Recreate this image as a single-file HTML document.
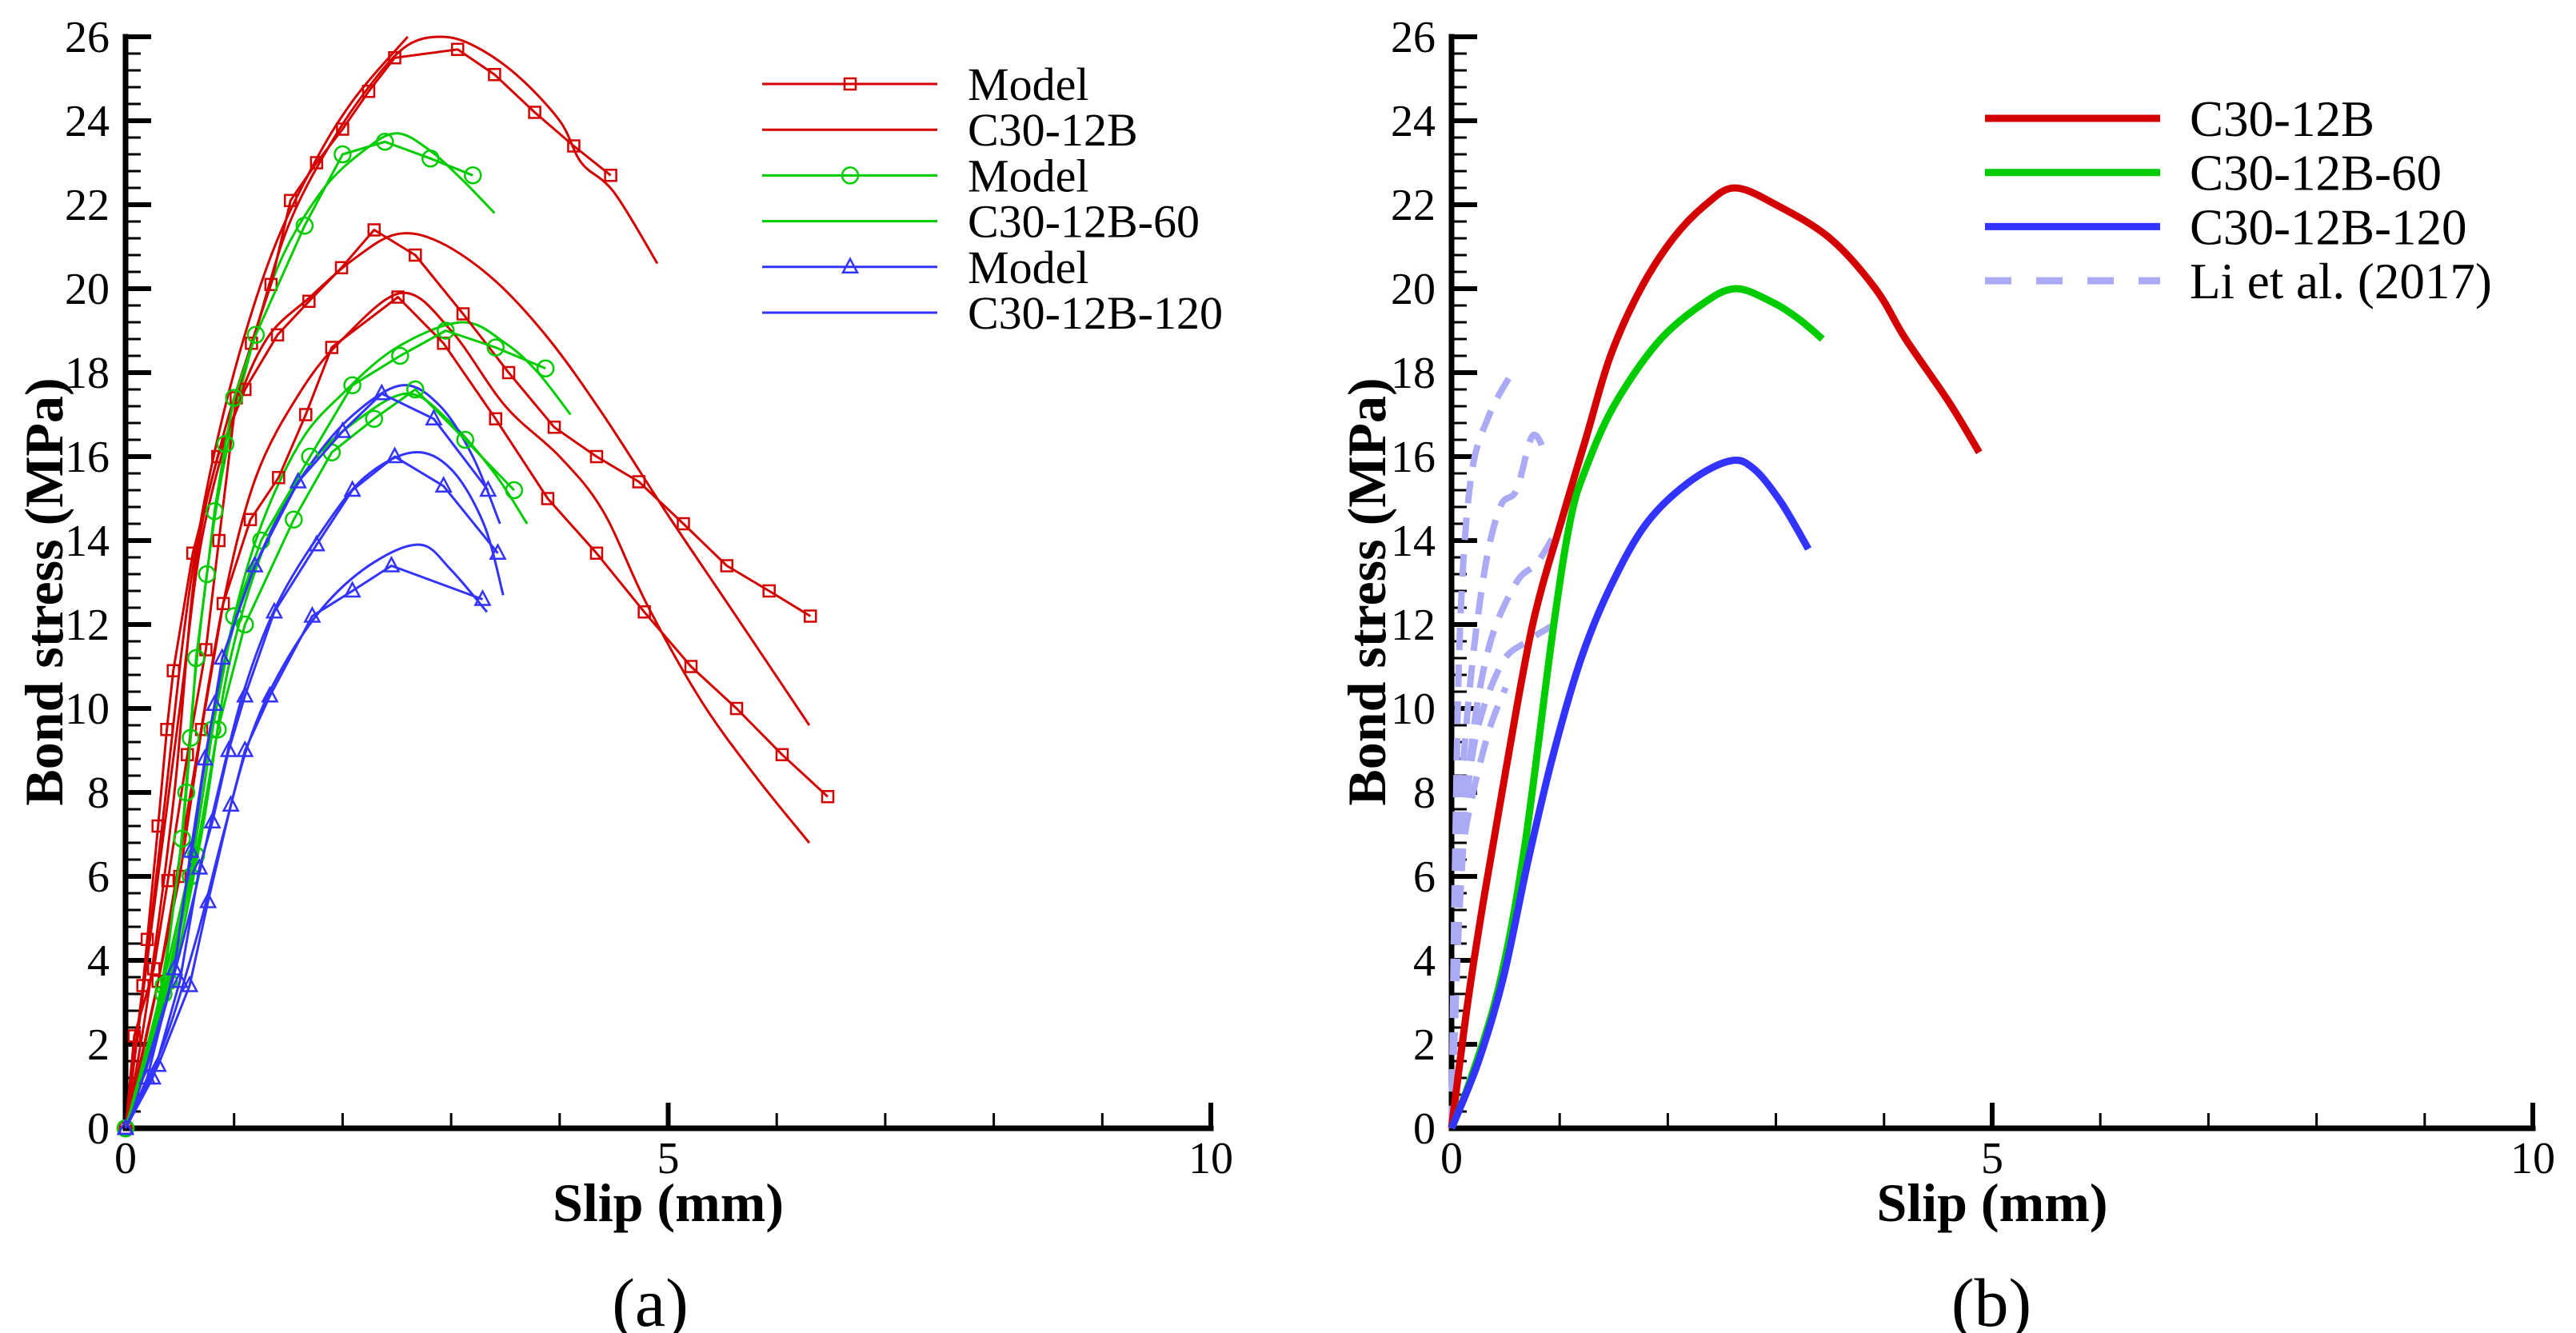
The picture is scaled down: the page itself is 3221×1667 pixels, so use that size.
<!DOCTYPE html>
<html><head><meta charset="utf-8"><style>
html,body{margin:0;padding:0;background:#fff;}
svg{display:block;}
svg text{font-family:"Liberation Serif","DejaVu Serif",serif !important;}
</style></head><body>
<svg id="fig" width="3221" height="1667" viewBox="0 0 3221 1667" xmlns="http://www.w3.org/2000/svg" font-family="Liberation Serif, serif">
<g id="pa"></g>
<g id="pb"></g>
</svg>
<script>
// ---- data (Slip mm, Bond stress MPa) ----
const xTicks = [0, 5, 10];
const yTicks = [0,2,4,6,8,10,12,14,16,18,20,22,24,26];
// panel a
const redModelA = [[0,0],[0.08,2.2],[0.26,3.8],[0.39,5.9],[0.57,8.9],[0.74,11.4],[0.86,14.0],[1.02,17.4],[1.16,18.7],[1.34,20.1],[1.52,22.1],[1.76,23.0],[2.0,23.8],[2.24,24.7],[2.48,25.5],[3.06,25.7],[3.4,25.1],[3.77,24.2],[4.13,23.4],[4.47,22.7]];
const redExpA = [[0,0],[0.2,3],[0.45,8],[0.65,13.5],[0.9,16.5],[1.2,19],[1.5,21.5],[1.9,23.5],[2.3,25],[2.6,25.8],[2.9,26],[3.2,25.8],[3.6,25.1],[4.0,24.0],[4.2,23.0],[4.5,22.3],[4.9,20.6]];
const redExpA2 = [[0,0],[0.15,3],[0.35,7.5],[0.6,13],[0.9,17],[1.3,20.5],[1.7,22.8],[2.1,24.5],[2.6,26]];
const redModelB = [[0,0],[0.16,3.4],[0.2,4.5],[0.3,7.2],[0.38,9.5],[0.44,10.9],[0.62,13.7],[0.85,16.0],[1.1,17.6],[1.4,18.9],[1.69,19.7],[1.99,20.5],[2.29,21.4],[2.67,20.8],[3.11,19.4],[3.53,18.0],[3.95,16.7],[4.34,16.0],[4.73,15.4],[5.14,14.4],[5.54,13.4],[5.93,12.8],[6.31,12.2]];
const redExpB = [[0,0],[0.2,4],[0.5,10],[0.7,14],[1.0,17],[1.3,18.8],[1.7,19.8],[2.1,20.7],[2.5,21.3],[2.9,21.1],[3.4,20.2],[3.9,18.8],[4.4,17.0],[5.0,14.6],[5.6,12.3],[6.3,9.6]];
const redModelC = [[0,0],[0.3,3.5],[0.5,6],[0.7,9.5],[0.9,12.5],[1.15,14.5],[1.41,15.5],[1.66,17.0],[1.9,18.6],[2.51,19.8],[2.93,18.7],[3.41,16.9],[3.89,15.0],[4.34,13.7],[4.78,12.3],[5.21,11.0],[5.63,10.0],[6.05,8.9],[6.47,7.9]];
const redExpC = [[0,0],[0.3,3.5],[0.6,8],[0.9,12.5],[1.2,15.5],[1.6,17.5],[2.0,18.8],[2.55,19.9],[3.0,19.0],[3.5,17.2],[4.0,16.0],[4.4,14.7],[4.8,12.5],[5.3,10.2],[5.8,8.4],[6.3,6.8]];
const greenModelA = [[0,0],[0.35,3.4],[0.52,6.9],[0.56,8.0],[0.6,9.3],[0.65,11.2],[0.75,13.2],[0.82,14.7],[0.92,16.3],[1.0,17.4],[1.2,18.9],[1.65,21.5],[2.0,23.2],[2.39,23.5],[2.81,23.1],[3.2,22.7]];
const greenExpA = [[0,0],[0.3,3],[0.5,6.5],[0.65,11],[0.85,15],[1.1,18],[1.4,20.5],[1.8,22.3],[2.2,23.3],[2.5,23.7],[2.8,23.3],[3.1,22.6],[3.4,21.8]];
const greenModelB = [[0,0],[0.35,3.2],[0.6,6],[0.8,9.5],[1.0,12.2],[1.25,14.0],[1.7,16.0],[2.09,17.7],[2.53,18.4],[2.95,19.0],[3.41,18.6],[3.87,18.1]];
const greenExpB = [[0,0],[0.35,3.5],[0.65,7],[0.9,11],[1.2,14],[1.6,16.3],[2.0,17.5],[2.5,18.6],[3.1,19.2],[3.5,18.7],[3.8,18.0],[4.1,17.0]];
const greenModelC = [[0,0],[0.4,3.5],[0.65,6.5],[0.85,9.5],[1.1,12],[1.55,14.5],[1.9,16.1],[2.29,16.9],[2.67,17.6],[3.13,16.4],[3.58,15.2]];
const greenExpC = [[0,0],[0.4,3.3],[0.7,7],[0.95,11],[1.3,14],[1.7,15.8],[2.1,16.8],[2.6,17.5],[3.0,16.8],[3.4,15.6],[3.7,14.4]];
const blueModelA = [[0,0],[0.2,1.2],[0.45,3.8],[0.6,6.6],[0.73,8.8],[0.82,10.1],[0.89,11.2],[1.19,13.4],[1.59,15.4],[2.0,16.6],[2.36,17.5],[2.84,16.9],[3.34,15.2]];
const blueExpA = [[0,0],[0.3,2.5],[0.55,5.5],[0.75,9],[1.0,12],[1.3,14],[1.7,15.8],[2.1,17],[2.55,17.7],[2.9,17.2],[3.2,16.0],[3.45,14.4]];
const blueModelB = [[0,0],[0.25,1.2],[0.5,3.5],[0.68,6.2],[0.8,7.3],[0.95,9.0],[1.1,10.3],[1.37,12.3],[1.76,13.9],[2.09,15.2],[2.48,16.0],[2.93,15.3],[3.43,13.7]];
const blueExpB = [[0,0],[0.3,2.3],[0.6,5.2],[0.85,8],[1.1,10.5],[1.4,12.5],[1.8,14.2],[2.2,15.5],[2.65,16.1],[3.0,15.7],[3.3,14.4],[3.48,12.7]];
const blueModelC = [[0,0],[0.3,1.5],[0.59,3.4],[0.76,5.4],[0.97,7.7],[1.1,9.0],[1.33,10.3],[1.72,12.2],[2.09,12.8],[2.45,13.4],[3.29,12.6]];
const blueExpC = [[0,0],[0.35,2],[0.65,4.5],[0.9,7],[1.15,9.3],[1.45,11],[1.85,12.5],[2.3,13.5],[2.72,13.9],[3.0,13.3],[3.33,12.3]];
// panel b
const bRed = [[0,0],[0.15,3],[0.3,5.5],[0.5,8.5],[0.75,12],[1.02,14.5],[1.25,16.5],[1.47,18.4],[1.75,20.0],[2.05,21.2],[2.35,22.0],[2.62,22.4],[3.0,22.0],[3.5,21.2],[3.92,20.0],[4.2,18.8],[4.6,17.3],[4.88,16.1]];
const bGreen = [[0,0],[0.18,1.2],[0.44,3.4],[0.67,6.6],[0.94,11.9],[1.1,14.5],[1.24,15.7],[1.5,17.2],[1.9,18.7],[2.3,19.6],[2.62,20.0],[2.95,19.7],[3.2,19.3],[3.43,18.8]];
const bBlue = [[0,0],[0.25,1.6],[0.48,3.6],[0.71,6.4],[0.94,8.9],[1.2,11.2],[1.47,12.9],[1.8,14.4],[2.2,15.4],[2.58,15.9],[2.8,15.7],[3.05,14.9],[3.3,13.8]];
const liA = [[0,0],[0.03,6],[0.08,12],[0.18,15.5],[0.35,17],[0.56,18.0]];
const liB = [[0,0],[0.05,6],[0.15,10],[0.3,13.2],[0.45,14.8],[0.6,15.2],[0.75,16.5],[0.88,16.0]];
const liC = [[0,0],[0.06,5],[0.18,9],[0.35,11.5],[0.6,13],[0.8,13.5],[1.03,14.5]];
const liD = [[0,0],[0.08,5.5],[0.2,9],[0.45,11],[0.7,11.6],[1.02,12.1]];
const liE = [[0,0],[0.05,4],[0.1,6.5],[0.2,8],[0.35,9.5],[0.5,10.5]];

const NS="http://www.w3.org/2000/svg";
const FF="Liberation Serif, serif";
function mk(tag,attrs,parent){const e=document.createElementNS(NS,tag);for(const k in attrs)e.setAttribute(k,attrs[k]);if(tag==='text')e.setAttribute('font-family',FF);parent.appendChild(e);return e;}

function axes(g,x0,x10,yLab,yTitleX){
  const Y0=1411,Y26=46;
  const sx=v=>x0+(x10-x0)*v/10, sy=v=>Y0+(Y26-Y0)*v/26;
  for(let i=0;i<=65;i++){const v=i*0.4; if(i%5===0)continue;
    const t=mk('line',{x1:x0,x2:x0+19,y1:sy(v),y2:sy(v),stroke:'#000','stroke-width':3},g);
    
    }
  yTicks.forEach(v=>{
    const t=mk('line',{x1:x0,x2:x0+32,y1:sy(v),y2:sy(v),stroke:'#000','stroke-width':6},g);
    
    
    const l=mk('text',{x:yLab,y:sy(v)+19,'font-size':56,'text-anchor':'end'},g);l.textContent=v;
    
    
  });
  for(let i=1;i<10;i++){ if(i===5)continue;
    const t=mk('line',{x1:sx(i),x2:sx(i),y1:Y0,y2:Y0-19,stroke:'#000','stroke-width':3},g);
    
    }
  xTicks.forEach(v=>{
    const t=mk('line',{x1:sx(v),x2:sx(v),y1:Y0,y2:Y0-32,stroke:'#000','stroke-width':6},g);
    
    
    const l=mk('text',{x:sx(v),y:Y0+56,'font-size':56,'text-anchor':'middle'},g);l.textContent=v;
    
    
  });
  const ax=mk('path',{d:`M${x0} ${Y26} L${x0} ${Y0} L${x10} ${Y0}`,fill:'none',stroke:'#000','stroke-width':7,'stroke-linecap':'square'},g);
  
  
  const xt=mk('text',{x:(x0+x10)/2,y:1527,'font-size':68,'font-weight':'bold','text-anchor':'middle'},g);xt.textContent='Slip (mm)';
  
  
  const yt=mk('text',{x:0,y:0,'font-size':68,'font-weight':'bold','text-anchor':'middle',transform:`translate(${yTitleX},740) rotate(-90)`},g);yt.textContent='Bond stress (MPa)';
  
  
  return {sx,sy};
}
function pathD(s,data,smooth){
  const P=data.map(p=>[s.sx(p[0]),s.sy(p[1])]);
  if(!smooth)return P.map((p,i)=>(i?'L':'M')+p[0].toFixed(1)+' '+p[1].toFixed(1)).join(' ');
  let d='M'+P[0][0].toFixed(1)+' '+P[0][1].toFixed(1);
  for(let i=0;i<P.length-1;i++){
    const p0=P[Math.max(0,i-1)],p1=P[i],p2=P[i+1],p3=P[Math.min(P.length-1,i+2)];
    const c1=[p1[0]+(p2[0]-p0[0])/6,p1[1]+(p2[1]-p0[1])/6];
    const c2=[p2[0]-(p3[0]-p1[0])/6,p2[1]-(p3[1]-p1[1])/6];
    d+=` C${c1[0].toFixed(1)} ${c1[1].toFixed(1)} ${c2[0].toFixed(1)} ${c2[1].toFixed(1)} ${p2[0].toFixed(1)} ${p2[1].toFixed(1)}`;
  }
  return d;
}
function line(g,s,data,color,w,name,dash,smooth){
  const a={d:pathD(s,data,smooth),fill:'none',stroke:color,'stroke-width':w,'stroke-linejoin':'round'};
  if(dash)a['stroke-dasharray']=dash;
  const e=mk('path',a,g);
  
  
}
function marker(g,cx,cy,type,color){
  let e;
  if(type==='sq')e=mk('rect',{x:cx-7,y:cy-7,width:14,height:14,fill:'none',stroke:color,'stroke-width':2.5},g);
  else if(type==='ci')e=mk('circle',{cx:cx,cy:cy,r:10,fill:'none',stroke:color,'stroke-width':2.5},g);
  else e=mk('path',{d:`M${cx} ${cy-10} L${cx+9} ${cy+7} L${cx-9} ${cy+7} Z`,fill:'none',stroke:color,'stroke-width':2.5},g);
  
  
}
function model(g,s,data,color,type,name){
  line(g,s,data,color,3,name);
  data.forEach(p=>marker(g,s.sx(p[0]),s.sy(p[1]),type,color));
}
const R='#d40000',G='#00cc00',B='#3333ff',L='#aaaaf5';
// panel a
const ga=document.getElementById('pa');
const sa=axes(ga,157,1514,137,78);
line(ga,sa,redExpA,R,3,'c30-12b-test-a',null,true);line(ga,sa,redExpA2,R,3,'c30-12b-test-a2',null,true);
line(ga,sa,redExpB,R,3,'c30-12b-test-b',null,true);line(ga,sa,redExpC,R,3,'c30-12b-test-c',null,true);
line(ga,sa,greenExpA,G,3,'c30-12b-60-test-a',null,true);line(ga,sa,greenExpB,G,3,'c30-12b-60-test-b',null,true);line(ga,sa,greenExpC,G,3,'c30-12b-60-test-c',null,true);
line(ga,sa,blueExpA,B,3,'c30-12b-120-test-a',null,true);line(ga,sa,blueExpB,B,3,'c30-12b-120-test-b',null,true);line(ga,sa,blueExpC,B,3,'c30-12b-120-test-c',null,true);
model(ga,sa,redModelA,R,'sq','red-model-a');model(ga,sa,redModelB,R,'sq','red-model-b');model(ga,sa,redModelC,R,'sq','red-model-c');
model(ga,sa,greenModelA,G,'ci','green-model-a');model(ga,sa,greenModelB,G,'ci','green-model-b');model(ga,sa,greenModelC,G,'ci','green-model-c');
model(ga,sa,blueModelA,B,'tr','blue-model-a');model(ga,sa,blueModelB,B,'tr','blue-model-b');model(ga,sa,blueModelC,B,'tr','blue-model-c');
// legend a
const legA=[['Model',R,'sq'],['C30-12B',R,null],['Model',G,'ci'],['C30-12B-60',G,null],['Model',B,'tr'],['C30-12B-120',B,null]];
legA.forEach((e,i)=>{const y=105+i*57.2;
  const ln=mk('line',{x1:953,x2:1172,y1:y,y2:y,stroke:e[1],'stroke-width':3},ga);
  
  
  if(e[2])marker(ga,1063,y,e[2],e[1]);
  const t=mk('text',{x:1210,y:y+20,'font-size':58},ga);t.textContent=e[0];
  
  
});
const la=mk('text',{x:813,y:1658,'font-size':86,'text-anchor':'middle'},ga);la.textContent='(a)';


// panel b
const gb=document.getElementById('pb');
const sb=axes(gb,1815,3167,1795,1732);
[liA,liB,liC,liD,liE].forEach((d,i)=>line(gb,sb,d,L,8,'li-2017-curve-'+(i+1),'28 18',true));
line(gb,sb,bRed,R,9,'c30-12b-curve',null,true);
line(gb,sb,bGreen,G,9,'c30-12b-60-curve',null,true);
line(gb,sb,bBlue,B,9,'c30-12b-120-curve',null,true);
const legB=[['C30-12B',R,null],['C30-12B-60',G,null],['C30-12B-120',B,null],['Li et al. (2017)',L,'33 31']];
legB.forEach((e,i)=>{const y=148+i*67.7;
  const a={x1:2482,x2:2701,y1:y,y2:y,stroke:e[1],'stroke-width':9};
  if(e[2])a['stroke-dasharray']=e[2];
  const ln=mk('line',a,gb);
  
  
  const t=mk('text',{x:2738,y:y+22,'font-size':63},gb);t.textContent=e[0];
  
  
});
const lb=mk('text',{x:2490,y:1658,'font-size':86,'text-anchor':'middle'},gb);lb.textContent='(b)';


</script>
</body></html>
